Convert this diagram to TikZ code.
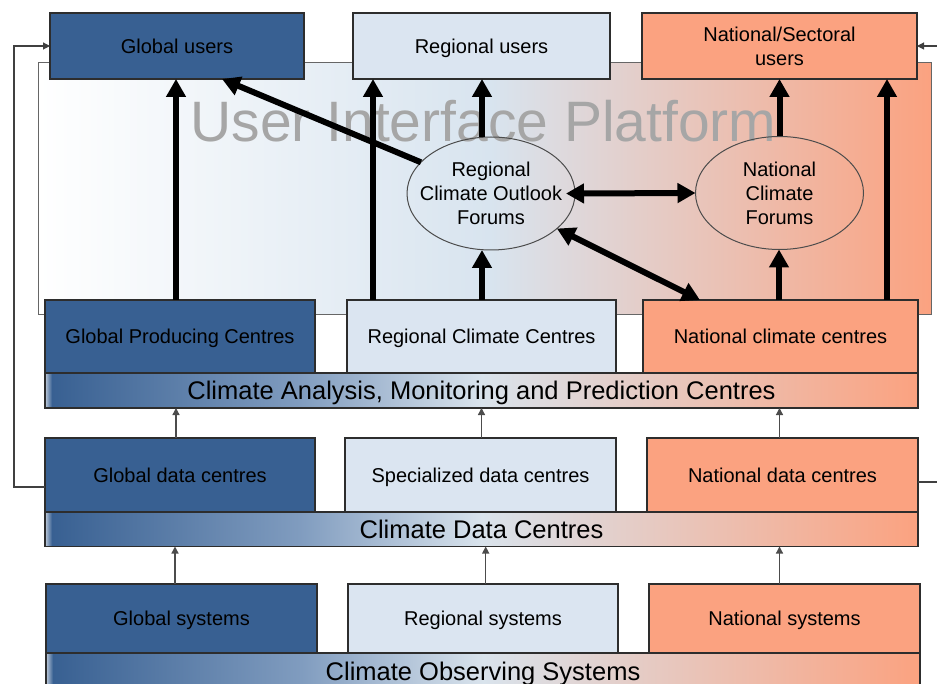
\documentclass[tikz,border=0pt]{standalone}
\usepackage{fontspec}
\setmainfont{Liberation Sans}
\usetikzlibrary{arrows.meta,shapes.geometric}
\definecolor{dblue}{RGB}{56,96,146}
\definecolor{lblue}{RGB}{219,229,241}
\definecolor{salm}{RGB}{251,162,128}
\definecolor{uipmid}{RGB}{216,228,239}
\definecolor{bandmid}{RGB}{217,227,236}
\definecolor{bandl}{RGB}{192,204,219}
\definecolor{bandq}{RGB}{128,156,191}
\definecolor{titlegray}{RGB}{166,166,166}
\definecolor{edge}{RGB}{45,45,45}
\pgfdeclarehorizontalshading{uipshade}{100bp}{color(0bp)=(white); color(25bp)=(white); color(50.3bp)=(uipmid); color(75bp)=(salm); color(100bp)=(salm)}
\pgfdeclarehorizontalshading{bandshade}{100bp}{color(0bp)=(bandl); color(25bp)=(bandl); color(25.4bp)=(dblue); color(39.6bp)=(bandq); color(50bp)=(bandmid); color(75bp)=(salm); color(100bp)=(salm)}
\newcommand\bxfont{\fontsize{20}{24}\selectfont}
\newcommand\bandfont{\fontsize{25.5}{30}\selectfont}
\newcommand\ttlfont{\fontsize{57}{60}\selectfont}
\begin{document}
\begin{tikzpicture}[x=1pt,y=-1pt,
  boxbase/.style={draw=edge, line width=1.3pt, inner sep=0pt, outer sep=0pt, font=\bxfont, text=black, align=center},
  box/.style={boxbase, text height=14.3pt, text depth=0pt},
  gbox/.style={box, fill=dblue},
  rbox/.style={box, fill=lblue},
  nbox/.style={box, fill=salm},
  band/.style={draw=edge, line width=1.3pt, inner sep=0pt, outer sep=0pt, shade, shading=bandshade, font=\bandfont, text=black, text height=18.3pt, text depth=0pt},
  forum/.style={ellipse, draw=edge!85, line width=1pt, inner sep=0pt, outer sep=0pt, minimum width=168pt, minimum height=113pt},
  forumtext/.style={inner sep=0pt, font=\bxfont, align=center, text=black},
  thick arr/.style={line width=6pt, -{Triangle[width=19pt,length=18pt]}},
  thick dbl/.style={line width=6pt, {Triangle[width=19pt,length=18pt]}-{Triangle[width=19pt,length=18pt]}},
  thin arr/.style={line width=1.3pt, draw=black!70, -{Triangle[width=7pt,length=7pt]}},
  fb line/.style={line width=1.1pt, draw=black!75, -{Triangle[width=7pt,length=7pt]}}
]
\useasboundingbox (0,0) rectangle (937,684);
\fill[white] (0,0) rectangle (937,684);
% user interface platform background
\shadedraw[shading=uipshade, draw=black!60, line width=1pt] (38,63) rectangle (931,315);
\node[font=\ttlfont, text=titlegray, anchor=base, inner sep=0pt] (title) at (483.5,142) {User Interface Platform};
% top row: users
\node[gbox, minimum width=254pt, minimum height=66pt] (gu) at (177,46) {Global users};
\node[rbox, minimum width=257pt, minimum height=66pt] (ru) at (481.5,46) {Regional users};
\node[boxbase, fill=salm, minimum width=275pt, minimum height=66pt] (nu) at (779.5,46) {National/Sectoral\\users};
% forums
\node[forum] (rcof) at (491,193.5) {};
\node[forumtext] (rcoft) at (rcof.center) {Regional\\Climate Outlook\\Forums};
\node[forum] (ncf) at (779.5,193) {};
\node[forumtext] (ncft) at (ncf.center) {National\\Climate\\Forums};
% row 2
\node[gbox, minimum width=270pt, minimum height=73pt] (gpc) at (180,336.5) {Global Producing Centres};
\node[rbox, minimum width=269pt, minimum height=73pt] (rcc) at (481.5,336.5) {Regional Climate Centres};
\node[nbox, minimum width=275pt, minimum height=73pt] (ncc) at (780.5,336.5) {National climate centres};
\node[band, minimum width=873pt, minimum height=35pt] (b1) at (481.5,390.5) {Climate Analysis, Monitoring and Prediction Centres};
% row 3
\node[gbox, minimum width=270pt, minimum height=74pt] (gdc) at (180,475) {Global data centres};
\node[rbox, minimum width=271pt, minimum height=74pt] (sdc) at (480.5,475) {Specialized data centres};
\node[nbox, minimum width=271pt, minimum height=74pt] (ndc) at (782.5,475) {National data centres};
\node[band, minimum width=873pt, minimum height=34.5pt] (b2) at (481.5,529.25) {Climate Data Centres};
% row 4
\node[gbox, minimum width=271pt, minimum height=69pt] (gs) at (181.5,618.5) {Global systems};
\node[rbox, minimum width=270pt, minimum height=69pt] (rs) at (483,618.5) {Regional systems};
\node[nbox, minimum width=271pt, minimum height=69pt] (ns) at (784.5,618.5) {National systems};
\node[band, minimum width=874pt, minimum height=37pt] (b3) at (483,671.5) {Climate Observing Systems};
% thin arrows between layers
\draw[thin arr] ([xshift=-4pt]gdc.north) -- ([xshift=-4pt]gdc.north |- b1.south);
\draw[thin arr] ([xshift=1pt]sdc.north) -- ([xshift=1pt]sdc.north |- b1.south);
\draw[thin arr] ([xshift=-3pt]ndc.north) -- ([xshift=-3pt]ndc.north |- b1.south);
\draw[thin arr] ([xshift=-6.5pt]gs.north) -- ([xshift=-6.5pt]gs.north |- b2.south);
\draw[thin arr] ([xshift=2.7pt]rs.north) -- ([xshift=2.7pt]rs.north |- b2.south);
\draw[thin arr] ([xshift=-5pt]ns.north) -- ([xshift=-5pt]ns.north |- b2.south);
% feedback lines
\coordinate (lfb) at (14,300);
\coordinate (rfb) at (950,300);
\draw[fb line] ([yshift=-12pt]gdc.west) -| (lfb) |- (gu.west);
\draw[fb line] ([yshift=-7pt]ndc.east) -| (rfb) |- (nu.east);
% thick arrows
\draw[thick arr] ([xshift=-4pt]gpc.north) -- ([xshift=-4pt]gpc.north |- gu.south);
\draw[thick arr] ([xshift=-108.5pt]rcc.north) -- ([xshift=-108.5pt]rcc.north |- ru.south);
\draw[thick arr] ([xshift=-9pt]rcof.north) -- ([xshift=-9pt]rcof.north |- ru.south);
\draw[thick arr] ([xshift=0.5pt]rcc.north) -- ([xshift=0.5pt]rcc.north |- rcof.south);
\draw[thick arr] (ncf.north) -- (ncf.north |- nu.south);
\draw[thick arr] ([xshift=-1.5pt]ncc.north) -- ([xshift=-1.5pt]ncc.north |- ncf.south);
\draw[thick arr] ([xshift=106.5pt]ncc.north) -- ([xshift=106.5pt]ncc.north |- nu.south);
\draw[thick arr] (rcof.156) -- ([xshift=45pt]gu.south);
\draw[thick dbl, shorten <=-9pt] (rcof.east) -- (ncf.west);
\draw[thick dbl] (rcof.-28) -- ([xshift=-80.5pt]ncc.north);
\end{tikzpicture}
\end{document}
